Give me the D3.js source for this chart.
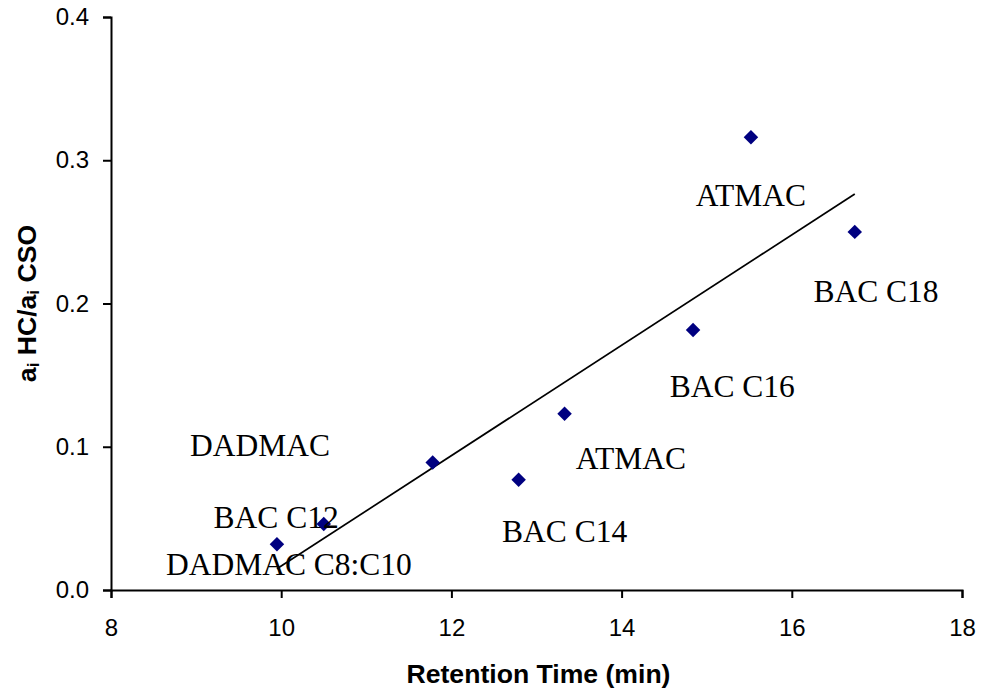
<!DOCTYPE html>
<html>
<head>
<meta charset="utf-8">
<script src="https://cdn.jsdelivr.net/npm/d3@7/dist/d3.min.js"></script>
<style>
  html, body { margin: 0; padding: 0; background: #fff; }
  svg { display: block; }
</style>
</head>
<body>
<script>
// Retention time (min) and activity ratio for each surfactant peak
const retentionTime = [9.95, 10.50, 11.78, 12.79, 13.33, 14.84, 15.52, 16.74];
const activityRatio = [0.032, 0.046, 0.089, 0.077, 0.123, 0.1815, 0.316, 0.250];

// Annotation text with its anchor in data units (centre, baseline)
const labelText = ["DADMAC", "BAC C12", "DADMAC C8:C10", "BAC C14", "ATMAC", "BAC C16", "ATMAC", "BAC C18"];
const labelX = [9.75, 9.94, 10.09, 13.33, 14.11, 15.30, 15.52, 16.99];
const labelY = [0.0938, 0.0431, 0.0105, 0.0337, 0.0843, 0.1345, 0.2681, 0.2013];

// Axis ticks
const xTicks = [8, 10, 12, 14, 16, 18];
const yTicks = [0.0, 0.1, 0.2, 0.3, 0.4];

const width = 981, height = 692;
const margin = { left: 111, right: 19, top: 17, bottom: 102 };

const svg = d3.select("body").append("svg")
  .attr("width", width)
  .attr("height", height);

svg.append("rect").attr("width", width).attr("height", height).attr("fill", "#fff");

const x = d3.scaleLinear().domain([8, 18]).range([margin.left, width - margin.right]);
const y = d3.scaleLinear().domain([0, 0.4]).range([height - margin.bottom, margin.top]);

// Axes
const xAxis = svg.append("g")
  .attr("transform", `translate(0,${y(0)})`)
  .call(d3.axisBottom(x).tickValues(xTicks).tickSize(8).tickPadding(21).tickSizeOuter(8)
    .tickFormat(d3.format("d")));

const yAxis = svg.append("g")
  .attr("transform", `translate(${x(8)},0)`)
  .call(d3.axisLeft(y).tickValues(yTicks).tickSize(8).tickPadding(14).tickSizeOuter(8)
    .tickFormat(d3.format(".1f")));

[xAxis, yAxis].forEach(g => {
  g.selectAll("path.domain").attr("stroke", "#000").attr("stroke-width", 2);
  g.selectAll(".tick line").attr("stroke", "#000").attr("stroke-width", 2);
  g.selectAll(".tick text")
    .attr("fill", "#000")
    .style("font-family", "'Liberation Sans', Arial, sans-serif")
    .style("font-size", "24px");
});

// Axis titles
svg.append("text")
  .attr("x", (x(8) + x(18)) / 2 + 2)
  .attr("y", 683)
  .attr("text-anchor", "middle")
  .style("font-family", "'Liberation Sans', Arial, sans-serif")
  .style("font-size", "26.6px")
  .style("font-weight", "bold")
  .text("Retention Time (min)");

const yTitle = svg.append("text")
  .attr("transform", `translate(36,${(y(0) + y(0.4)) / 2}) rotate(-90)`)
  .attr("text-anchor", "middle")
  .style("font-family", "'Liberation Sans', Arial, sans-serif")
  .style("font-size", "26.6px")
  .style("font-weight", "bold");
yTitle.append("tspan").text("a");
yTitle.append("tspan").attr("font-size", "17px").attr("dy", "3").text("i");
yTitle.append("tspan").attr("dy", "-3").text(" HC/a");
yTitle.append("tspan").attr("font-size", "17px").attr("dy", "3").text("i");
yTitle.append("tspan").attr("dy", "-3").text(" CSO");

// Least-squares trend line over the range of the data
const pts = retentionTime.map((t, i) => [t, activityRatio[i]]);
const mx = d3.mean(retentionTime), my = d3.mean(activityRatio);
const sxy = d3.sum(pts, p => (p[0] - mx) * (p[1] - my));
const sxx = d3.sum(pts, p => (p[0] - mx) ** 2);
const slope = sxy / sxx, intercept = my - slope * mx;
const [tMin, tMax] = d3.extent(retentionTime);

svg.append("line")
  .attr("x1", x(tMin)).attr("y1", y(intercept + slope * tMin))
  .attr("x2", x(tMax)).attr("y2", y(intercept + slope * tMax))
  .attr("stroke", "#000")
  .attr("stroke-width", 1.7);

// Diamond markers
const diamond = d3.symbol().type(d3.symbolSquare).size(105);
svg.append("g").selectAll("path")
  .data(pts)
  .join("path")
  .attr("d", diamond)
  .attr("transform", d => `translate(${x(d[0])},${y(d[1])}) rotate(45)`)
  .attr("fill", "#000080");

// Peak annotations
svg.append("g").selectAll("text")
  .data(labelText)
  .join("text")
  .attr("x", (d, i) => x(labelX[i]))
  .attr("y", (d, i) => y(labelY[i]))
  .attr("text-anchor", "middle")
  .style("font-family", "'Liberation Serif', 'Times New Roman', serif")
  .style("font-size", "31.5px")
  .attr("fill", "#000")
  .text(d => d);
</script>
</body>
</html>
